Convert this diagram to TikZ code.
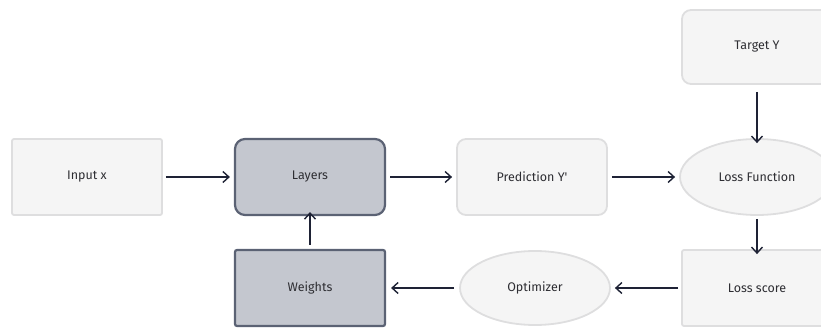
\documentclass[tikz,border=0pt]{standalone}
\usepackage{fontspec}
\setmainfont{Fira Sans}
\usetikzlibrary{shapes.geometric,arrows.meta}
\definecolor{lightfill}{HTML}{F5F5F5}
\definecolor{lightline}{HTML}{DEDEDF}
\definecolor{darkfill}{HTML}{C4C7CF}
\definecolor{darkline}{HTML}{5B6274}
\definecolor{arrowcol}{HTML}{1E2235}
\definecolor{textcol}{HTML}{2E2E33}
\tikzset{
  base/.style={minimum width=150pt, minimum height=76pt, inner sep=0pt,
    font=\fontsize{12.5}{15}\selectfont, text=textcol},
  plainbox/.style={base, draw=lightline, fill=lightfill, line width=1.8pt, rounded corners=2pt},
  softbox/.style={base, draw=lightline, fill=lightfill, line width=1.8pt, rounded corners=9pt},
  oval/.style={base, ellipse, draw=lightline, fill=lightfill, line width=1.8pt},
  darkbox/.style={base, draw=darkline, fill=darkfill, line width=2.2pt},
  flow/.style={draw=arrowcol, line width=1.4pt, -{Straight Barb[length=6pt,width=11pt,line width=1.4pt]}},
}
\begin{document}
\begin{tikzpicture}[x=1pt,y=-1pt]
  \useasboundingbox (0,0) rectangle (821,331);
  \node[plainbox] (input) at (87,177) {Input x};
  \node[darkbox, rounded corners=10pt] (layers) at (310,177) {Layers};
  \node[softbox] (pred) at (532,177) {Prediction Y\textquotesingle};
  \node[oval, minimum width=154pt] (loss) at (757,177) {Loss Function};
  \node[softbox, minimum height=74pt] (target) at (757,47) {Target Y};
  \node[plainbox] (score) at (757,288) {Loss score};
  \node[oval, minimum width=150pt, minimum height=74pt] (opt) at (535,288) {Optimizer};
  \node[darkbox, rounded corners=2pt] (weights) at (310,288) {Weights};

  \draw[flow] (input.east) ++(3,0) -- ([xshift=-4pt]layers.west);
  \draw[flow] (layers.east) ++(4,0) -- ([xshift=-4pt]pred.west);
  \draw[flow] (pred.east) ++(4,0) -- ([xshift=-4pt]loss.west);
  \draw[flow] (target.south) ++(0,7) -- ([yshift=-5pt]loss.north);
  \draw[flow] (loss.south) ++(0,3) -- ([yshift=-5pt]score.north);
  \draw[flow] (score.west) ++(-3,0) -- ([xshift=4pt]opt.east);
  \draw[flow] (opt.west) ++(-5,0) -- ([xshift=5pt]weights.east);
  \draw[flow] (weights.north) ++(0,-4) -- ([yshift=4pt]layers.south);
\end{tikzpicture}
\end{document}
